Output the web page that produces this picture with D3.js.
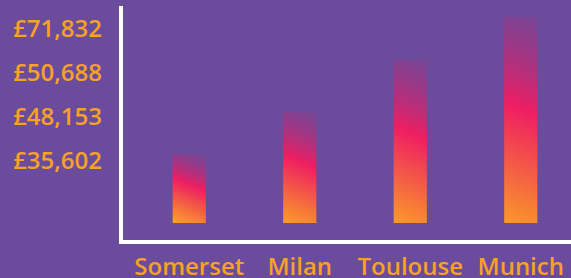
<!DOCTYPE html>
<html>
<head>
<meta charset="utf-8">
<script src="https://cdn.jsdelivr.net/npm/d3@7"></script>
<style>
  html, body { margin: 0; padding: 0; background: #6a4b9c; }
  svg { display: block; }
  text { font-family: "Open Sans", sans-serif; }
</style>
</head>
<body>
<svg id="chart" width="571" height="278"></svg>
<script>
const categories = ["Somerset", "Milan", "Toulouse", "Munich"];
const values = [24060, 38700, 56840, 71832];
const tickLabels = ["£35,602", "£48,153", "£50,688", "£71,832"];

const W = 571, H = 278;
const svg = d3.select("#chart");
svg.append("rect").attr("width", W).attr("height", H).attr("fill", "#6a4b9c");

const x = d3.scaleBand().domain(categories).range([134, 576]).paddingInner(0.7).paddingOuter(0.35);
const y = d3.scaleLinear().domain([0, d3.max(values)]).range([223, 17]);
const yTicks = d3.scalePoint().domain(tickLabels).range([160, 28]);

const defs = svg.append("defs");
categories.forEach((c, i) => {
  const x0 = x(c), bw = x.bandwidth();
  const top = y(values[i]), bot = y(0);
  const h = bot - top;
  const cx = x0 + bw / 2;
  const dx = 0.4 * h;
  const g = defs.append("linearGradient")
    .attr("id", "grad" + i)
    .attr("gradientUnits", "userSpaceOnUse")
    .attr("x1", cx - dx / 2).attr("y1", bot)
    .attr("x2", cx + dx / 2).attr("y2", top);
  g.append("stop").attr("offset", "0%").attr("stop-color", "#fba324").attr("stop-opacity", 1);
  g.append("stop").attr("offset", "55%").attr("stop-color", "#ee1e62").attr("stop-opacity", 1);
  g.append("stop").attr("offset", "100%").attr("stop-color", "#b02a7a").attr("stop-opacity", 0.12);
});

svg.append("g").selectAll("rect").data(categories).join("rect")
  .attr("x", d => x(d))
  .attr("width", x.bandwidth())
  .attr("y", (d, i) => y(values[i]))
  .attr("height", (d, i) => y(0) - y(values[i]))
  .attr("fill", (d, i) => `url(#grad${i})`);

// Y axis labels
const yAxis = d3.axisLeft(yTicks).tickSize(0).tickPadding(0);
const gy = svg.append("g").attr("transform", "translate(102,0)").call(yAxis);
gy.select(".domain").remove();
gy.selectAll("text")
  .attr("fill", "#f7a125")
  .style("font-size", "24px")
  .style("font-weight", 600)
  .attr("dy", "0.36em");

// X axis labels
const xAxis = d3.axisBottom(x).tickSize(0).tickPadding(0);
const gx = svg.append("g").attr("transform", "translate(0,257)").call(xAxis);
gx.select(".domain").remove();
gx.selectAll("text")
  .attr("fill", "#f7a125")
  .style("font-size", "24px")
  .style("font-weight", 600)
  .attr("dy", "0.76em");

// Axis lines (white)
svg.append("line").attr("x1", 121).attr("x2", 121).attr("y1", 6).attr("y2", 244)
  .attr("stroke", "#fff").attr("stroke-width", 4);
svg.append("line").attr("x1", 119).attr("x2", W).attr("y1", 242).attr("y2", 242)
  .attr("stroke", "#fff").attr("stroke-width", 4);
</script>
</body>
</html>
